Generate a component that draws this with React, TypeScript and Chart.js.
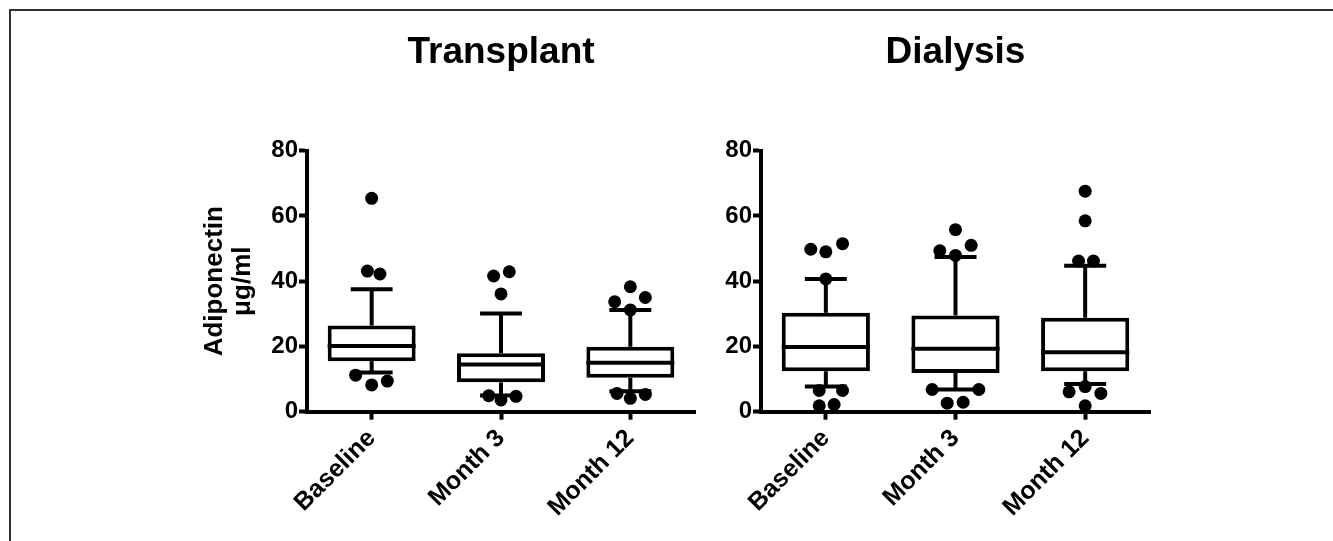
import React, { useEffect, useRef } from "react";
import { Chart, registerables } from "chart.js";

Chart.register(...registerables);

const FONT = "'Liberation Sans', Arial, Helvetica, sans-serif";

const timepoints = ["Baseline", "Month 3", "Month 12"];
const yTickValues = [0, 20, 40, 60, 80];
const yAxisTitle = ["Adiponectin", "μg/ml"];

// ---- Transplant ----
const transplantQ1 = [15.5, 9.0, 10.4];
const transplantMedian = [20.1, 14.5, 15.0];
const transplantQ3 = [26.4, 17.9, 19.9];
const transplantWhiskerLow = [12.0, 5.0, 6.3];
const transplantWhiskerHigh = [37.5, 30.1, 31.2];
const transplantOutlierGroup = [0, 0, 0, 0, 0, 0, 1, 1, 1, 1, 1, 1, 2, 2, 2, 2, 2, 2, 2];
const transplantOutlierValue = [65.4, 43.1, 42.2, 11.2, 8.2, 9.4, 41.6, 42.9, 36.1, 4.9, 3.6, 4.7, 38.3, 33.7, 35.0, 31.2, 5.6, 4.1, 5.3];
const transplantOutlierJitter = [0, -0.033, 0.064, -0.124, 0, 0.121, -0.057, 0.064, 0, -0.095, 0, 0.116, 0, -0.121, 0.116, 0, -0.103, 0, 0.116];

// ---- Dialysis ----
const dialysisQ1 = [12.4, 11.9, 12.4];
const dialysisMedian = [19.8, 19.3, 18.2];
const dialysisQ3 = [30.3, 29.5, 28.8];
const dialysisWhiskerLow = [7.7, 6.8, 8.5];
const dialysisWhiskerHigh = [40.7, 47.4, 44.7];
const dialysisOutlierGroup = [0, 0, 0, 0, 0, 0, 0, 0, 1, 1, 1, 1, 1, 1, 1, 1, 2, 2, 2, 2, 2, 2, 2, 2];
const dialysisOutlierValue = [49.8, 49.0, 51.5, 40.7, 6.5, 6.5, 1.8, 2.2, 55.8, 49.3, 51.0, 47.9, 6.8, 6.8, 2.6, 2.9, 67.6, 58.5, 46.2, 46.2, 7.7, 6.1, 5.6, 1.8];
const dialysisOutlierJitter = [-0.116, 0, 0.129, 0, -0.051, 0.129, -0.051, 0.064, 0, -0.121, 0.121, 0, -0.18, 0.18, -0.064, 0.059, 0, 0, -0.051, 0.064, 0, -0.124, 0.121, 0];

type PanelSpec = {
  title: string;
  q1: number[];
  median: number[];
  q3: number[];
  wLo: number[];
  wHi: number[];
  outGroup: number[];
  outValue: number[];
  outJitter: number[];
  showYTitle: boolean;
  yAxisWidth: number;
  padRight: number;
};

function makeWhiskerPlugin(p: PanelSpec) {
  return {
    id: "boxWhiskers",
    afterDatasetsDraw(chart: any) {
      const { ctx } = chart;
      const xs = chart.scales.x;
      const ys = chart.scales.y;
      const meta = chart.getDatasetMeta(1);
      const capHalf = 0.162;
      ctx.save();
      ctx.strokeStyle = "#000";
      ctx.lineWidth = 4;
      ctx.lineCap = "butt";
      const seg = (x1: number, y1: number, x2: number, y2: number) => {
        ctx.beginPath();
        ctx.moveTo(x1, y1);
        ctx.lineTo(x2, y2);
        ctx.stroke();
      };
      p.median.forEach((m, i) => {
        const bar = meta.data[i];
        const { x: bx, width } = bar.getProps(["x", "width"], true);
        const ym = ys.getPixelForValue(m);
        seg(bx - width / 2, ym, bx + width / 2, ym);
        const cx = xs.getPixelForValue(i);
        const c1 = xs.getPixelForValue(i - capHalf);
        const c2 = xs.getPixelForValue(i + capHalf);
        const yHi = ys.getPixelForValue(p.wHi[i]);
        const yLo = ys.getPixelForValue(p.wLo[i]);
        seg(cx, ys.getPixelForValue(p.q3[i]), cx, yHi);
        seg(c1, yHi, c2, yHi);
        seg(cx, ys.getPixelForValue(p.q1[i]), cx, yLo);
        seg(c1, yLo, c2, yLo);
      });
      ctx.restore();
    },
  };
}

function buildConfig(p: PanelSpec): any {
  const boxData = p.q1.map((lo, i) => ({ x: i, y: [lo, p.q3[i]] }));
  const outData = p.outValue.map((v, k) => ({ x: p.outGroup[k] + p.outJitter[k], y: v }));
  return {
    type: "bar",
    data: {
      datasets: [
        {
          type: "scatter",
          data: outData,
          backgroundColor: "#000",
          borderColor: "#000",
          pointRadius: 6.5,
          pointBorderWidth: 0,
          order: 0,
        },
        {
          type: "bar",
          data: boxData,
          backgroundColor: "#fff",
          borderColor: "#000",
          borderWidth: 4,
          borderSkipped: false,
          categoryPercentage: 1,
          barPercentage: 0.68,
          order: 1,
        },
      ],
    },
    options: {
      responsive: false,
      animation: false,
      layout: { padding: { left: 0, right: p.padRight, top: 0, bottom: 0 } },
      plugins: {
        legend: { display: false },
        tooltip: { enabled: false },
        title: {
          display: true,
          fullSize: false,
          text: p.title,
          color: "#000",
          font: { family: FONT, size: 37, weight: "bold", lineHeight: 1.2 },
          padding: { top: 31, bottom: 75.3 },
        },
      },
      scales: {
        x: {
          type: "linear",
          min: -0.5,
          max: 2.5,
          offset: false,
          afterBuildTicks: (s: any) => {
            s.ticks = timepoints.map((_, i) => ({ value: i }));
          },
          afterFit: (s: any) => {
            s.height = 129.3;
          },
          ticks: {
            callback: (v: number) => timepoints[v],
            minRotation: 45,
            maxRotation: 45,
            autoSkip: false,
            color: "#000",
            padding: 4,
            font: { family: FONT, size: 25, weight: "bold" },
          },
          grid: {
            display: true,
            drawOnChartArea: false,
            drawTicks: true,
            tickLength: 8,
            tickWidth: 4,
            tickColor: "#000",
            offset: false,
          },
          border: { display: true, color: "#000", width: 4 },
        },
        y: {
          type: "linear",
          min: 0,
          max: 80,
          afterBuildTicks: (s: any) => {
            s.ticks = yTickValues.map((v) => ({ value: v }));
          },
          afterFit: (s: any) => {
            s.width = p.yAxisWidth;
          },
          ticks: {
            color: "#000",
            padding: 1,
            font: { family: FONT, size: 24, weight: "bold" },
          },
          grid: {
            display: true,
            drawOnChartArea: false,
            drawTicks: true,
            tickLength: 8,
            tickWidth: 4,
            tickColor: "#000",
          },
          border: { display: true, color: "#000", width: 4 },
          title: {
            display: p.showYTitle,
            text: yAxisTitle,
            color: "#000",
            font: { family: FONT, size: 26, weight: "bold", lineHeight: 1.08 },
            padding: { top: 60.5, bottom: 0 },
          },
        },
      },
    },
    plugins: [makeWhiskerPlugin(p)],
  };
}

function Panel({ spec, left, width }: { spec: PanelSpec; left: number; width: number }) {
  const ref = useRef<HTMLCanvasElement>(null);
  useEffect(() => {
    const chart = new Chart(ref.current as HTMLCanvasElement, buildConfig(spec));
    return () => chart.destroy();
  }, []);
  return (
    <canvas
      ref={ref}
      width={width}
      height={541}
      style={{ position: "absolute", left, top: 0, width, height: 541 }}
    />
  );
}

const transplantSpec: PanelSpec = {
  title: "Transplant",
  q1: transplantQ1,
  median: transplantMedian,
  q3: transplantQ3,
  wLo: transplantWhiskerLow,
  wHi: transplantWhiskerHigh,
  outGroup: transplantOutlierGroup,
  outValue: transplantOutlierValue,
  outJitter: transplantOutlierJitter,
  showYTitle: true,
  yAxisWidth: 167,
  padRight: 25,
};

const dialysisSpec: PanelSpec = {
  title: "Dialysis",
  q1: dialysisQ1,
  median: dialysisMedian,
  q3: dialysisQ3,
  wLo: dialysisWhiskerLow,
  wHi: dialysisWhiskerHigh,
  outGroup: dialysisOutlierGroup,
  outValue: dialysisOutlierValue,
  outJitter: dialysisOutlierJitter,
  showYTitle: false,
  yAxisWidth: 41,
  padRight: 30,
};

export default function App() {
  return (
    <div
      style={{
        position: "fixed",
        left: 0,
        top: 0,
        width: 1333,
        height: 541,
        background: "#fff",
        overflow: "hidden",
      }}
    >
      <div
        style={{
          position: "absolute",
          left: 9,
          top: 9,
          right: 0,
          bottom: 0,
          borderTop: "2px solid #333",
          borderLeft: "2px solid #333",
        }}
      />
      <Panel spec={transplantSpec} left={140} width={580} />
      <Panel spec={dialysisSpec} left={720} width={460} />
    </div>
  );
}
